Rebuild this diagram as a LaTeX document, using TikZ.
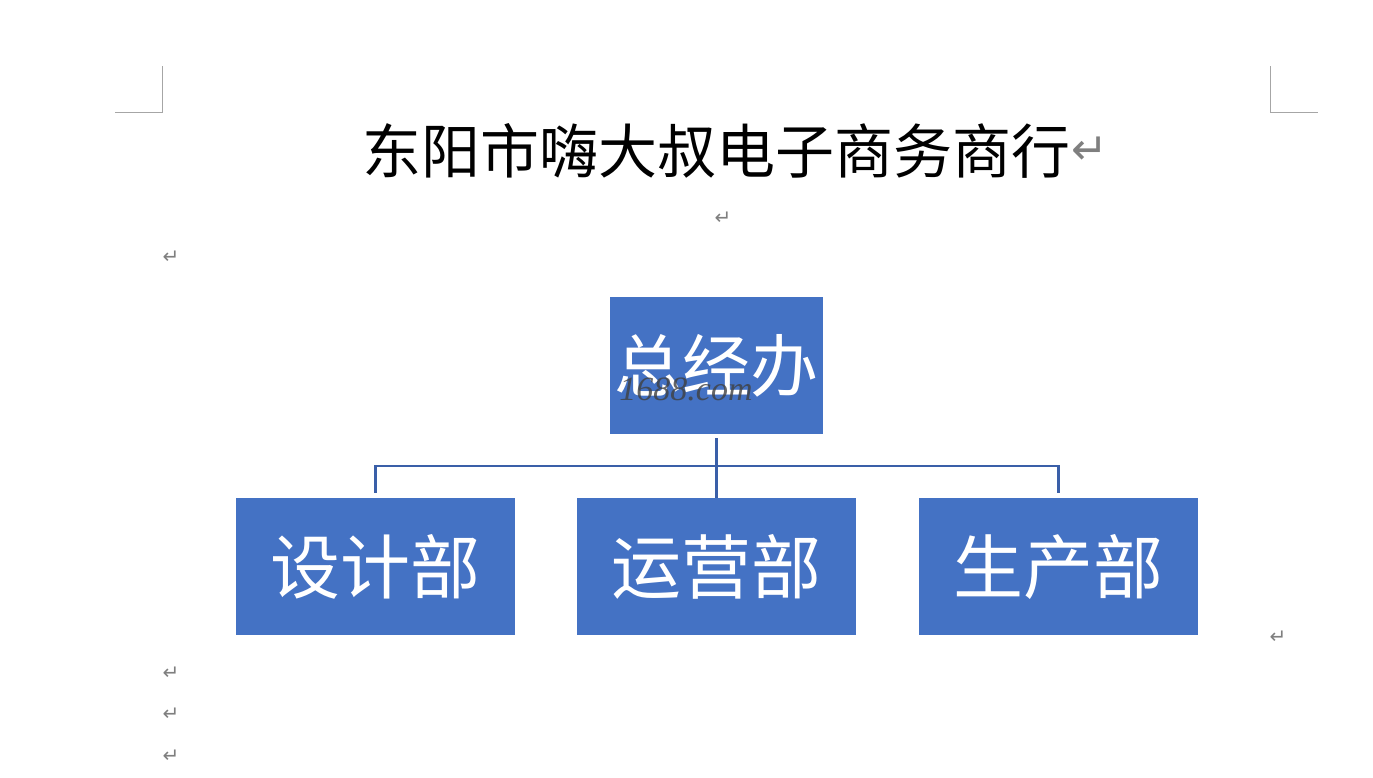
\documentclass[tikz,border=0pt]{standalone}
\usepackage{fontspec}
\newfontfamily\cjk{Noto Sans CJK SC}
\newfontfamily\dvs{DejaVu Sans}
\newfontfamily\wmfont{Liberation Serif}
\definecolor{boxblue}{HTML}{4472C4}
\definecolor{linkblue}{HTML}{3A5FA8}
\definecolor{markgrey}{HTML}{A6A6A6}
\definecolor{retgrey}{HTML}{7F7F7F}
\begin{document}
\begin{tikzpicture}[x=1pt,y=-1pt,
  orgbox/.style={draw=none,fill=boxblue,text=white,inner sep=0pt,font=\cjk\fontsize{68}{72}\selectfont},
  conn/.style={draw=linkblue,line width=2.6pt},
  cropmark/.style={draw=markgrey,line width=1pt},
  retmark/.style={text=retgrey,inner sep=0pt,font=\dvs\fontsize{20}{22}\selectfont}]
\useasboundingbox[fill=white] (0,0) rectangle (1373,777);
% crop marks
\draw[cropmark] (162,66) -- (162,112) -- (115,112);
\draw[cropmark] (1270,66) -- (1270,112) -- (1318,112);
% title
\node[inner sep=0pt,anchor=center,font=\cjk\fontsize{59}{62}\selectfont] (title) at (716,151) {东阳市嗨大叔电子商务商行};
\node[inner sep=0pt,text=retgrey,font=\dvs\fontsize{44}{46}\selectfont,anchor=west] (tret) at ([xshift=1pt]title.east) {↵};
% paragraph marks
\node[retmark] (r1) at (723,218) {↵};
\node[retmark] (r2) at (171,257) {↵};
\node[retmark] (r3) at (1278,637) {↵};
\node[retmark] (r4) at (171,673) {↵};
\node[retmark] (r5) at (171,714) {↵};
\node[retmark] (r6) at (171,756) {↵};
% boxes
\node[orgbox,minimum width=213pt,minimum height=137pt] (top) at (716.5,365.5) {\raisebox{4pt}{总经办}};
\node[orgbox,minimum width=279pt,minimum height=137pt,font=\cjk\fontsize{70}{74}\selectfont] (left) at (375.5,566.5) {\raisebox{4pt}{设计部}};
\node[orgbox,minimum width=279pt,minimum height=137pt,font=\cjk\fontsize{70}{74}\selectfont] (mid) at (716.5,566.5) {\raisebox{4pt}{运营部}};
\node[orgbox,minimum width=279pt,minimum height=137pt,font=\cjk\fontsize{70}{74}\selectfont] (right) at (1058.5,566.5) {\raisebox{4pt}{生产部}};
% watermark
\node[inner sep=0pt,text=black!75,opacity=0.8,font=\wmfont\itshape\fontsize{34}{36}\selectfont] (wm) at (686,389) {1688.com};
% connectors
\coordinate (j) at (716.5,466);
\draw[conn,shorten <=4pt] (top.south) -- (mid.north);
\draw[conn,shorten <=5pt,shorten >=5pt] (left.north) |- (j) -| (right.north);
\end{tikzpicture}
\end{document}
